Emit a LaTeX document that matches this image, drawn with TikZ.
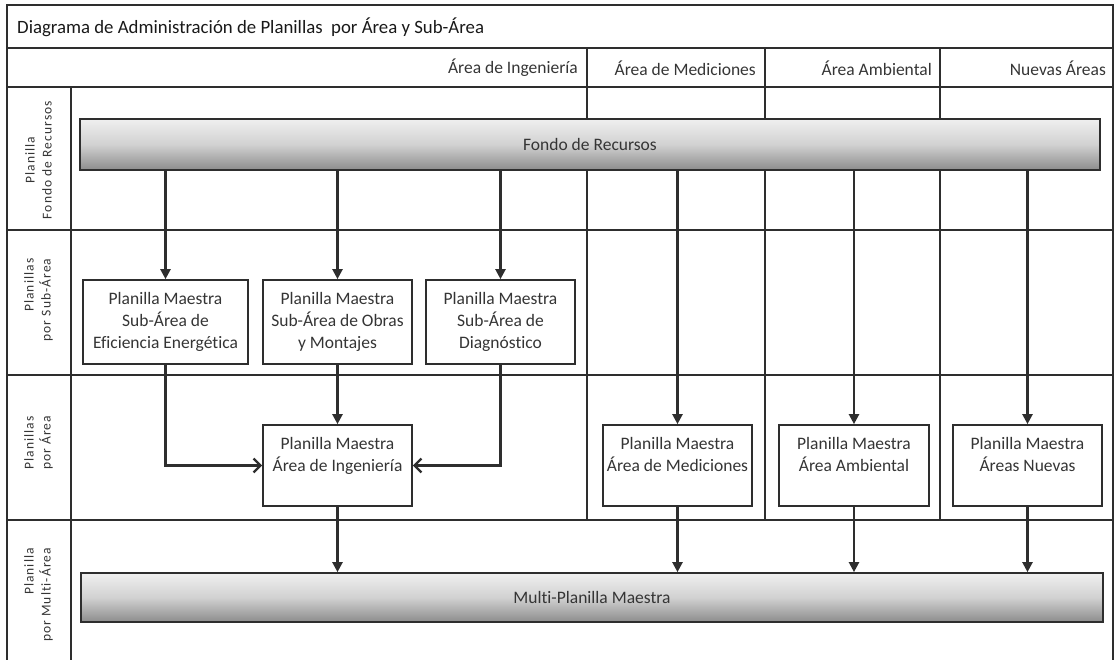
\documentclass[tikz,border=0pt]{standalone}
\usepackage{fontspec}
\setmainfont[Ligatures=NoCommon]{Carlito}
\newfontfamily\labfont[LetterSpace=8,Ligatures=NoCommon]{Carlito}
\usetikzlibrary{arrows.meta}
\definecolor{ln}{HTML}{2E2E2E}
\definecolor{tx}{HTML}{353535}
\begin{document}
\begin{tikzpicture}[x=1pt,y=-1pt,
  gridline/.style={draw=ln, line width=1.7pt},
  bar/.style={draw=ln, line width=1.7pt, top color=barTop, bottom color=barBot, middle color=barMid,
    text=tx, font=\fontsize{17.5}{22}\selectfont, inner sep=0pt},
  box/.style={draw=ln, line width=1.7pt, fill=white, align=center, inner sep=0pt,
    text=tx, font=\fontsize{17.5}{22}\selectfont},
  hdr/.style={text=tx, font=\fontsize{17.5}{22}\selectfont, anchor=east, inner sep=0pt},
  rowlab/.style={rotate=90, text=tx, font=\labfont\fontsize{13.5}{17}\selectfont, inner sep=0pt},
  arr/.style={draw=ln, line width=2.3pt, -{Triangle[length=10pt,width=10pt]}},
  harr/.style={draw=ln, line width=2.3pt, -{Straight Barb[length=7pt,width=14pt]}}
]
\colorlet{barTop}{black!6}
\colorlet{barMid}{black!18}
\colorlet{barBot}{black!45}
\useasboundingbox (0,0) rectangle (1117,660);
% grid
\draw[gridline] (7,660) -- (7,5) -- (1113,5) -- (1113,660);
\draw[gridline] (7,48) -- (1113,48);
\draw[gridline] (7,87) -- (1113,87);
\draw[gridline] (7,230) -- (1113,230);
\draw[gridline] (7,375) -- (1113,375);
\draw[gridline] (7,520) -- (1113,520);
\draw[gridline] (71,87) -- (71,660);
\foreach \x in {587,765,940} \draw[gridline] (\x,48) -- (\x,520);
% title and headers
\node[anchor=west, inner sep=0pt, text=black!90, font=\fontsize{18.8}{22}\selectfont] (title) at (17,27) {Diagrama de Administración de Planillas\ \ por Área y Sub-Área};
\node[hdr] (h1) at (578,68) {Área de Ingeniería};
\node[hdr] (h2) at (756,68) {Área de Mediciones};
\node[hdr] (h3) at (932,68) {Área Ambiental};
\node[hdr] (h4) at (1106,68) {Nuevas Áreas};
% row labels
\node[rowlab, align=center] (r1) at (38.5,160) {Planilla\\Fondo de Recursos};
\node[rowlab, align=right] (r2) at (38.5,300) {Planillas\\por Sub-Área};
\node[rowlab, align=center] (r3) at (38.5,443) {Planillas\\por Área};
\node[rowlab, align=right] (r4) at (38.5,595) {Planilla\\por Multi-Área};
% bars
\node[bar, minimum width=1020pt, minimum height=51pt] (fondo) at (590,144.5) {Fondo de Recursos};
\node[bar, minimum width=1022pt, minimum height=49pt] (multi) at (592,597.5) {Multi-Planilla Maestra};
% sub-area boxes
\node[box, minimum width=165pt, minimum height=84pt] (sub1) at (165.5,322) {Planilla Maestra\\Sub-Área de\\Eficiencia Energética};
\node[box, minimum width=149pt, minimum height=84pt] (sub2) at (337.5,322) {Planilla Maestra\\Sub-Área de Obras\\y Montajes};
\node[box, minimum width=149pt, minimum height=84pt] (sub3) at (500.5,322) {Planilla Maestra\\Sub-Área de\\Diagnóstico};
% area boxes
\node[box, minimum width=149pt, minimum height=81pt] (aing) at (337.5,465.5) {Planilla Maestra\\Área de Ingeniería\\\mbox{}};
\node[box, minimum width=149pt, minimum height=81pt] (amed) at (677.5,465.5) {Planilla Maestra\\Área de Mediciones\\\mbox{}};
\node[box, minimum width=150pt, minimum height=81pt] (aamb) at (854,465.5) {Planilla Maestra\\Área Ambiental\\\mbox{}};
\node[box, minimum width=149pt, minimum height=81pt] (anue) at (1027.5,465.5) {Planilla Maestra\\Áreas Nuevas\\\mbox{}};
% arrows from fondo
\foreach \n in {sub1,sub2,sub3,amed,aamb,anue}
  \draw[arr] (fondo.south -| \n.north) -- (\n.north);
% sub-area to area
\draw[harr] (sub1.south) |- (aing.west);
\draw[arr] (sub2.south) -- (aing.north);
\draw[harr] (sub3.south) |- (aing.east);
% area to multi
\foreach \n in {aing,amed,aamb,anue}
  \draw[arr] (\n.south) -- (\n.south |- multi.north);
\end{tikzpicture}
\end{document}
